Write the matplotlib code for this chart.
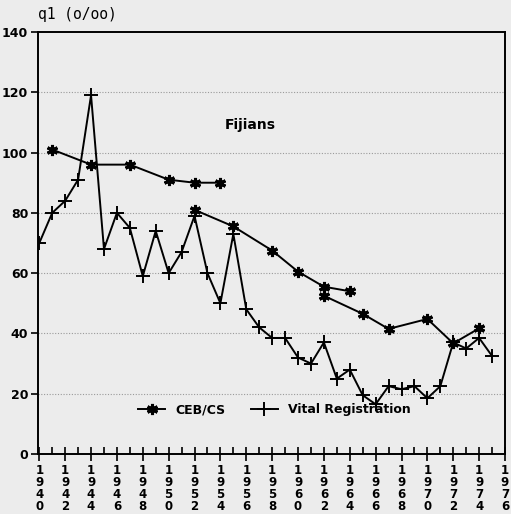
import matplotlib
matplotlib.use('Agg')
import matplotlib.pyplot as plt
import numpy as np

# vital registration, annual values
vr_years = list(range(1940, 1976))
vr_values = [70, 80, 84, 91, 119, 68, 80, 75, 59, 74,
             60, 67, 79, 60, 50, 73, 48, 42, 38.5, 38.5,
             32, 30, 37, 25, 28, 19.5, 16.5, 22.5, 21.5, 22.5,
             18.5, 22.5, 37, 35, 38.5, 32.5]

# CEB/CS estimates, three separate sets
ceb1_years = [1941, 1944, 1947, 1950, 1952, 1954]
ceb1_values = [101, 96, 96, 91, 90, 90]
ceb2_years = [1952, 1955, 1958, 1960, 1962, 1964]
ceb2_values = [81, 75.5, 67.5, 60.5, 55.5, 54]
ceb3_years = [1962, 1965, 1967, 1970, 1972, 1974]
ceb3_values = [52.5, 46.5, 41.5, 44.8, 36.7, 41.7]

y_ticks = [0, 20, 40, 60, 80, 100, 120, 140]
x_major = list(range(1940, 1977, 2))

bg = '#ececec'
fig = plt.figure(figsize=(5.11, 5.14), dpi=100, facecolor=bg)
ax = fig.add_axes([38 / 511, 60 / 514, 467 / 511, 422 / 514], facecolor=bg)

for y in y_ticks[1:-1]:
    ax.axhline(y, color='#9a9a9a', linestyle=(0, (1, 1.5)), linewidth=0.8, zorder=1)

star = (6, 2, 0)
ax.plot(vr_years, vr_values, color='black', lw=1.4, marker='+', ms=10, mew=1.4,
        label='Vital Registration', zorder=3)
ax.plot(ceb1_years, ceb1_values, color='black', lw=1.4, marker=star, ms=8, mew=2.2,
        label='CEB/CS', zorder=3)
ax.plot(ceb2_years, ceb2_values, color='black', lw=1.4, marker=star, ms=8, mew=2.2, zorder=3)
ax.plot(ceb3_years, ceb3_values, color='black', lw=1.4, marker=star, ms=8, mew=2.2, zorder=3)

ax.set_xlim(1939.9, 1976)
ax.set_ylim(0, 140)

ax.set_yticks(y_ticks)
ax.set_yticklabels([str(v) for v in y_ticks], fontsize=9, fontweight='bold')
ax.tick_params(axis='y', direction='out', length=5, width=1.2, pad=2)

ax.set_xticks(x_major)
ax.set_xticklabels(['\n'.join(str(v)) for v in x_major], fontsize=8.5,
                   fontweight='bold', linespacing=0.9)
ax.set_xticks(range(1940, 1977), minor=True)
ax.tick_params(axis='x', which='major', direction='inout', length=10, width=1.2, pad=2)
ax.tick_params(axis='x', which='minor', direction='in', length=5, width=1.2)

for side in ['left', 'bottom', 'right', 'top']:
    ax.spines[side].set_linewidth(1.4)

ax.text(1954.3, 109, 'Fijians', fontsize=10, fontweight='bold', ha='left', va='center')
fig.text(38 / 511, 1 - 15 / 514, 'q1 (o/oo)', fontsize=10.5, ha='left', va='center',
         family='DejaVu Sans Mono')

handles, labels = ax.get_legend_handles_labels()
ax.legend(handles[::-1], labels[::-1], loc='center left', bbox_to_anchor=(0.19, 0.105),
          ncol=2, frameon=False, handlelength=2.2, columnspacing=2.0,
          prop={'size': 9, 'weight': 'bold'})

fig.savefig('out.png', dpi=100, facecolor=bg)
